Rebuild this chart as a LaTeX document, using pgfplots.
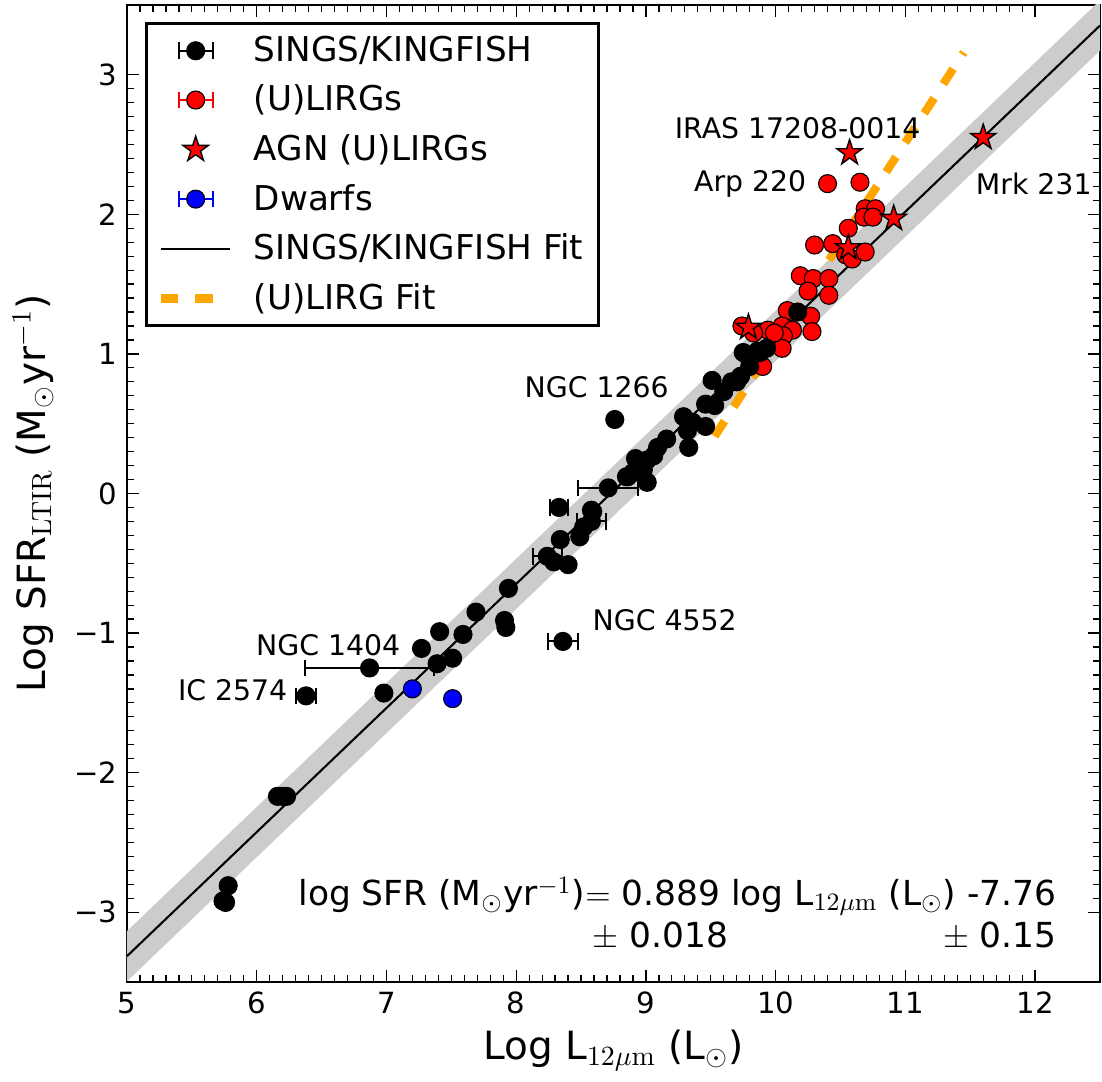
\documentclass[border=0pt]{standalone}
\usepackage{pgfplots}
\pgfplotsset{compat=1.18}
\usepackage[no-math]{fontspec}
\setmainfont{DejaVu Sans}
\definecolor{mplorange}{RGB}{255,165,0}
\definecolor{band}{RGB}{204,204,204}

\pgfdeclareplotmark{fstar}{%
  \pgfpathmoveto{\pgfpointpolar{90}{\pgfplotmarksize}}%
  \pgfpathlineto{\pgfpointpolar{126}{0.382\pgfplotmarksize}}%
  \pgfpathlineto{\pgfpointpolar{162}{\pgfplotmarksize}}%
  \pgfpathlineto{\pgfpointpolar{198}{0.382\pgfplotmarksize}}%
  \pgfpathlineto{\pgfpointpolar{234}{\pgfplotmarksize}}%
  \pgfpathlineto{\pgfpointpolar{270}{0.382\pgfplotmarksize}}%
  \pgfpathlineto{\pgfpointpolar{306}{\pgfplotmarksize}}%
  \pgfpathlineto{\pgfpointpolar{342}{0.382\pgfplotmarksize}}%
  \pgfpathlineto{\pgfpointpolar{18}{\pgfplotmarksize}}%
  \pgfpathlineto{\pgfpointpolar{54}{0.382\pgfplotmarksize}}%
  \pgfpathclose
  \pgfusepathqfillstroke
}

\pgfplotsset{
  errleg/.style 2 args={legend image code/.code={
     \draw[#1, line width=0.8pt] (6.5pt,0pt) -- (18.7pt,0pt);
     \draw[#1, line width=0.8pt] (6.5pt,-3pt) -- (6.5pt,3pt);
     \draw[#1, line width=0.8pt] (18.7pt,-3pt) -- (18.7pt,3pt);
     \draw[black, fill=#2, line width=0.4pt] (12.6pt,0pt) circle (3.24pt);
     \path[draw=none] (0pt,0pt) -- (31.5pt,0pt);
  }},
}

\begin{document}
\begin{tikzpicture}
\useasboundingbox (-45.72pt,-36pt) rectangle (351pt,353.52pt);
\begin{axis}[
  scale only axis,
  width=350.28pt, height=351.72pt,
  xmin=5, xmax=12.5, ymin=-3.5, ymax=3.5,
  xtick={5,6,7,8,9,10,11,12},
  xticklabels={5,6,7,8,9,10,11,12},
  ytick={-3,-2,-1,0,1,2,3},
  yticklabels={−3,−2,−1,0,1,2,3},
  minor x tick num=9, minor y tick num=9,
  tick align=inside,
  major tick length=4.3pt, minor tick length=2.5pt,
  tick style={black, line width=0.45pt},
  axis line style={line width=0.9pt},
  ticklabel style={font=\fontsize{10.5}{12}\selectfont},
  xlabel={Log L$_{12\mu\mathrm{m}}$ (L$_\odot$)},
  ylabel={Log SFR$_{\mathrm{LTIR}}$ (M$_\odot$yr$^{-1}$)},
  label style={font=\fontsize{14}{16}\selectfont},
  xlabel style={at={(axis description cs:0.5,-0.0696)}, anchor=center},
  ylabel style={at={(axis description cs:-0.0966,0.5)}, anchor=center},
  legend style={at={(axis description cs:0.0185,0.9826)}, anchor=north west,
    draw=black, line width=1.1pt, font=\fontsize{12.3}{14}\selectfont,
    inner xsep=3.5pt, inner ysep=2.5pt, row sep=3.0pt,
    nodes={inner sep=2pt}},
  legend cell align=left,
]
% band and fits
\addplot[fill=band, draw=none, forget plot] coordinates {(5,-3.135) (12.5,3.5325) (12.5,3.1725) (5,-3.495)};
\addplot[black, line width=0.75pt, forget plot] coordinates {(5,-3.315) (12.5,3.3525)};
\addplot[mplorange, line width=3pt, dash pattern=on 6.5pt off 6.1pt, forget plot] coordinates {(9.53,0.41) (11.45,3.16)};

% (U)LIRGs
\addplot[only marks, mark=*, mark size=3.24pt, mark options={fill=red, draw=black, line width=0.4pt}, forget plot] coordinates {
(10.40,2.22) (10.65,2.23) (10.69,2.04) (10.77,2.04) (10.68,1.98) (10.75,1.98)
(10.56,1.90) (10.30,1.78) (10.44,1.79) (10.54,1.71) (10.59,1.68) (10.69,1.73)
(10.19,1.56) (10.29,1.54) (10.41,1.54) (10.25,1.45) (10.41,1.42) (10.09,1.31)
(10.27,1.27) (10.05,1.20) (10.13,1.17) (10.28,1.16) (9.94,1.17) (9.74,1.20)
(10.06,1.13) (10.05,1.04) (9.90,0.91) (9.99,1.15) (9.83,1.15)
};

% SINGS/KINGFISH
\addplot[only marks, mark=*, mark size=3.24pt, mark options={fill=black, draw=black}, forget plot] coordinates {
(6.16,-2.17) (6.20,-2.17) (6.23,-2.17) (5.78,-2.81) (5.76,-2.93) (5.74,-2.92)
(6.98,-1.43) (7.27,-1.11) (7.39,-1.22) (7.41,-0.99) (7.51,-1.18) (7.59,-1.01)
(7.69,-0.85) (7.94,-0.68) (7.91,-0.91) (7.92,-0.96) (8.29,-0.49) (8.40,-0.51)
(8.34,-0.33) (8.49,-0.31) (8.52,-0.24) (8.58,-0.12) (8.59,-0.13) (8.85,0.12)
(8.86,0.12) (8.94,0.20) (8.96,0.22) (8.98,0.17) (9.01,0.08) (9.01,0.24) (9.06,0.27)
(8.92,0.25) (8.90,0.15) (9.09,0.33) (9.16,0.39) (9.33,0.33) (9.32,0.45)
(8.76,0.53) (9.29,0.55) (9.36,0.51) (9.46,0.48) (9.46,0.64) (9.53,0.63)
(9.51,0.81) (9.60,0.73) (9.66,0.80) (9.73,0.84) (9.78,0.99) (9.80,0.91)
(9.75,1.01) (9.86,1.02) (9.88,1.01) (9.93,1.04) (10.17,1.30) (9.70,0.80)
};
\addplot[only marks, mark=*, mark size=3.24pt, mark options={fill=black, draw=black}, black, forget plot,
  error bars/.cd, x dir=both, x explicit, error mark=|,
  error bar style={line width=0.7pt, black},
  error mark options={black, mark size=3pt, line width=0.7pt}] coordinates {
(6.38,-1.45) +- (0.08,0)
(6.87,-1.25) +- (0.50,0)
(8.36,-1.06) +- (0.115,0)
(8.24,-0.45) +- (0.11,0)
(8.33,-0.10) +- (0.07,0)
(8.58,-0.20) +- (0.11,0)
(8.71,0.04) +- (0.23,0)
};

% AGN (U)LIRGs
\addplot[only marks, mark=fstar, mark size=4.8pt, mark options={fill=red, draw=black, line width=0.5pt}, forget plot] coordinates {
(10.57,2.44) (11.60,2.55) (10.91,1.97) (10.56,1.76) (9.79,1.19)
};

% Dwarfs
\addplot[only marks, mark=*, mark size=3.24pt, mark options={fill=blue, draw=black, line width=0.4pt}, forget plot] coordinates {
(7.20,-1.40) (7.51,-1.47)
};

% legend
\addlegendimage{errleg={black}{black}}
\addlegendentry{SINGS/KINGFISH}
\addlegendimage{errleg={red}{red}}
\addlegendentry{(U)LIRGs}
\addlegendimage{legend image code/.code={
  \draw[black, fill=red, line width=0.5pt] plot[only marks, mark=fstar, mark size=4.8pt] coordinates {(12.6pt,0pt)};
  \path[draw=none] (0pt,0pt) -- (31.5pt,0pt);}}
\addlegendentry{AGN (U)LIRGs}
\addlegendimage{errleg={blue}{blue}}
\addlegendentry{Dwarfs}
\addlegendimage{legend image code/.code={
  \draw[black, line width=0.75pt] (0pt,0pt) -- (25pt,0pt);
  \path[draw=none] (0pt,0pt) -- (31.5pt,0pt);}}
\addlegendentry{SINGS/KINGFISH Fit}
\addlegendimage{legend image code/.code={
  \draw[mplorange, line width=3.2pt, dash pattern=on 6.3pt off 6.1pt] (0pt,0pt) -- (18.7pt,0pt);
  \path[draw=none] (0pt,0pt) -- (31.5pt,0pt);}}
\addlegendentry{(U)LIRG Fit}

% annotations
\node[font=\fontsize{10.2}{12}\selectfont, anchor=center, inner sep=0pt] at (axis cs:10.17,2.62) {IRAS 17208-0014};
\node[font=\fontsize{10.2}{12}\selectfont, anchor=east, inner sep=0pt] at (axis cs:10.24,2.22) {Arp 220};
\node[font=\fontsize{10.2}{12}\selectfont, anchor=west, inner sep=0pt] at (axis cs:11.54,2.22) {Mrk 231};
\node[font=\fontsize{10.2}{12}\selectfont, anchor=center, inner sep=0pt] at (axis cs:8.62,0.76) {NGC 1266};
\node[font=\fontsize{10.2}{12}\selectfont, anchor=west, inner sep=0pt] at (axis cs:8.585,-0.91) {NGC 4552};
\node[font=\fontsize{10.2}{12}\selectfont, anchor=east, inner sep=0pt] at (axis cs:7.11,-1.09) {NGC 1404};
\node[font=\fontsize{10.2}{12}\selectfont, anchor=east, inner sep=0pt] at (axis cs:6.24,-1.41) {IC 2574};
\node[font=\fontsize{12.4}{14}\selectfont, anchor=west, inner sep=0pt] at (axis cs:6.318,-2.885) {log SFR (M$_\odot$yr$^{-1}$)$=$ 0.889 log L$_{12\mu\mathrm{m}}$ (L$_\odot$) -7.76};
\node[font=\fontsize{12.4}{14}\selectfont, anchor=west, inner sep=0pt] at (axis cs:8.585,-3.17) {$\pm$ 0.018};
\node[font=\fontsize{12.4}{14}\selectfont, anchor=east, inner sep=0pt] at (axis cs:12.17,-3.17) {$\pm$ 0.15};
\end{axis}
\end{tikzpicture}
\end{document}
